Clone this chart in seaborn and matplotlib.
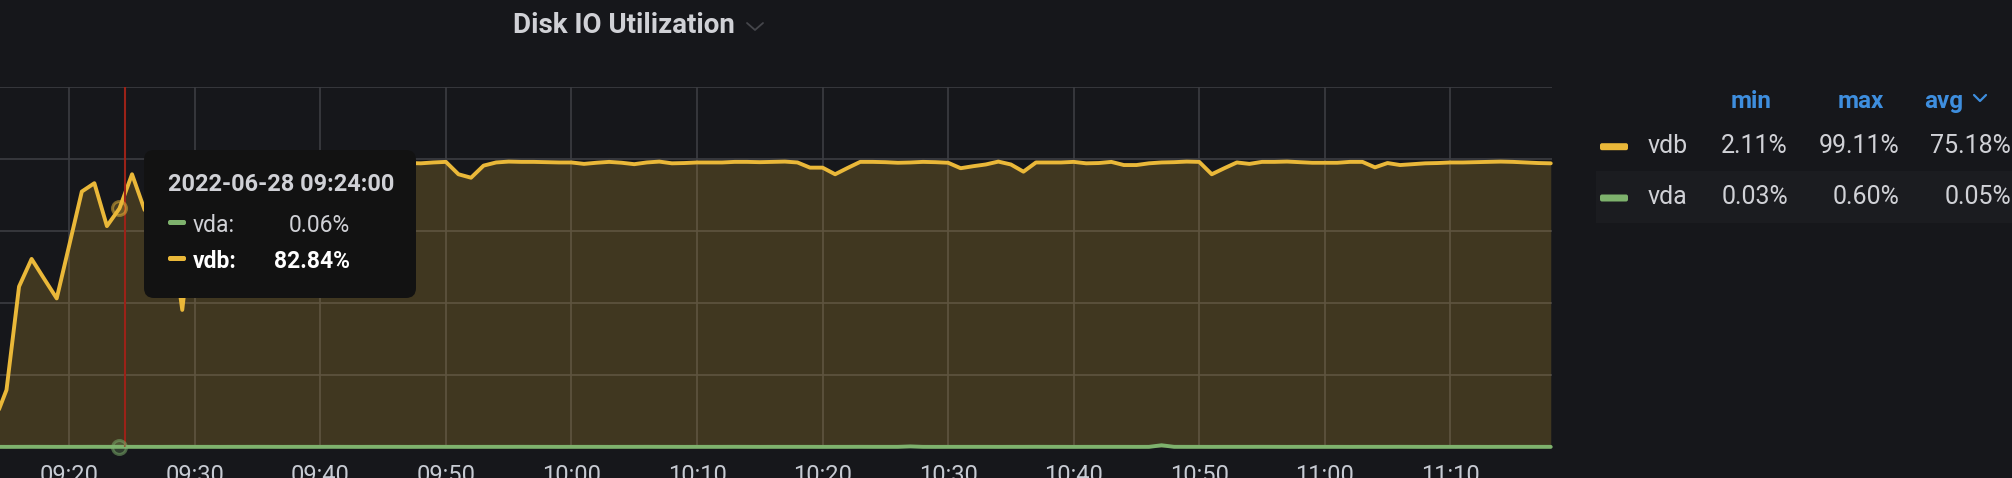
import pandas as pd
import numpy as np
import seaborn as sns
import matplotlib.pyplot as plt
import matplotlib.dates as mdates
from matplotlib.patches import FancyBboxPatch, Rectangle
from matplotlib.lines import Line2D

# one sample per minute, starting 09:14
start = "2022-06-28 09:14"
vdb = [8.5, 19.8, 55.7, 65.3, 58.4, 51.6, 70.1, 88.7, 91.6, 76.7,
       82.84, 94.7, 82.3, 88.0, 79.5, 47.6, 86.2, 93.4, 96.1, 97.8,
       98.2, 97.5, 98.6, 98.9, 98.4, 98.8, 98.9, 98.6, 98.3, 98.8,
       99.0, 98.7, 98.5, 98.6, 98.5, 98.8, 99.0, 94.7, 93.5, 97.7,
       98.8, 99.1, 99.0, 99.0, 98.9, 98.8,
       98.8, 98.3, 98.7, 99.0, 98.7, 98.2, 98.8, 99.1, 98.5, 98.6,
       98.8, 98.8, 98.8, 99.0, 99.0, 98.9, 99.0, 99.1, 98.8, 97.0,
       97.0, 94.7, 96.9, 99.0, 99.0, 98.9, 98.7, 98.8, 99.0, 98.9,
       98.7, 96.8, 97.5, 98.1, 99.1, 98.1, 95.6, 98.8, 98.8, 98.8,
       99.0, 98.5, 98.6, 99.0, 97.9, 97.9, 98.5, 98.8, 98.9, 99.1,
       99.0, 94.7, 96.8, 98.8, 98.3, 99.0, 99.0, 99.11, 98.9, 98.7,
       98.7, 98.7, 99.0, 99.0, 97.1, 98.6, 97.9, 98.2, 98.5, 98.6,
       98.8, 98.8, 98.9, 99.0, 99.1, 99.0, 98.8, 98.6, 98.5]
vda = [0.05, 0.04, 0.05, 0.06, 0.05, 0.04, 0.05, 0.05, 0.06, 0.05,
       0.06, 0.05, 0.05, 0.04, 0.05, 0.06, 0.05, 0.05, 0.04, 0.05,
       0.05, 0.06, 0.05, 0.04, 0.05, 0.05, 0.05, 0.06, 0.05, 0.04,
       0.05, 0.05, 0.05, 0.04, 0.05, 0.06, 0.05, 0.05, 0.04, 0.05,
       0.05, 0.05, 0.06, 0.05, 0.05, 0.04,
       0.05, 0.05, 0.05, 0.04, 0.05, 0.05, 0.06, 0.05, 0.05, 0.04,
       0.05, 0.05, 0.05, 0.06, 0.05, 0.04, 0.05, 0.05, 0.05, 0.05,
       0.04, 0.05, 0.05, 0.06, 0.05, 0.05, 0.05, 0.20, 0.05, 0.04,
       0.05, 0.05, 0.05, 0.05, 0.04, 0.05, 0.05, 0.06, 0.05, 0.05,
       0.04, 0.05, 0.05, 0.05, 0.05, 0.04, 0.05, 0.60, 0.06, 0.05,
       0.05, 0.04, 0.05, 0.05, 0.05, 0.06, 0.05, 0.04, 0.05, 0.05,
       0.05, 0.05, 0.04, 0.05, 0.05, 0.05, 0.06, 0.05, 0.04, 0.05,
       0.05, 0.05, 0.05, 0.04, 0.05, 0.05, 0.05, 0.05, 0.05]

series = ["vdb", "vda"]
colors = ["#EAB839", "#7EB26D"]
stat_names = ["min", "max", "avg"]
stat_vals = {"vdb": ["2.11%", "99.11%", "75.18%"],
             "vda": ["0.03%", "0.60%", "0.05%"]}
hover_time = "2022-06-28 09:24:00"
tip_order = ["vda", "vdb"]
tip_vals = {"vda": "0.06%", "vdb": "82.84%"}
title = "Disk IO Utilization"

times = pd.date_range(start, periods=len(vdb), freq="min")
df = pd.DataFrame({"time": list(times) * 2,
                   "value": vdb + vda,
                   "disk": ["vdb"] * len(vdb) + ["vda"] * len(vda)})

W, H = 2012, 478
bg = "#16171b"
txt = "#d0d1d6"
blue = "#3e8ede"
pal = dict(zip(series, colors))

sns.set_theme(style="dark")
plt.rcParams['font.family'] = ['Roboto', 'DejaVu Sans']

fig = plt.figure(figsize=(W / 100, H / 100), dpi=100, facecolor=bg)
ax = fig.add_axes([0, 31 / H, 1552 / W, 360 / H])
ax.set_facecolor(bg)

sns.lineplot(data=df, x="time", y="value", hue="disk", hue_order=series,
             palette=pal, lw=2.8, legend=False, ax=ax, zorder=3)
for ln in ax.lines:
    ln.set_clip_on(False)
for s in series:
    sub = df[df["disk"] == s]
    ax.fill_between(sub["time"], sub["value"], color=pal[s], alpha=0.2, lw=0, zorder=2)

ax.set_ylim(0, 125)
ax.set_xlim(pd.Timestamp("2022-06-28 09:14:29"), pd.Timestamp("2022-06-28 11:18:06"))
ax.set_yticks([0, 25, 50, 75, 100, 125])
ax.xaxis.set_major_locator(mdates.MinuteLocator(byminute=range(0, 60, 10)))
ax.xaxis.set_major_formatter(mdates.DateFormatter("%H:%M"))
ax.tick_params(axis="x", length=0, labelsize=17, pad=12, labelcolor="#c7cbd3")
ax.tick_params(axis="y", length=0, labelleft=False)
ax.grid(True, color="#3c3d42", lw=1.2, zorder=0)
ax.set_axisbelow(True)
ax.set_xlabel("")
ax.set_ylabel("")
for sp in ax.spines.values():
    sp.set_visible(False)

# hover cursor + points
ht = pd.Timestamp(hover_time)
ax.axvline(ht + pd.Timedelta(seconds=27), color="#9b2218", lw=1.5, zorder=4)
for s in series:
    v = df[(df["disk"] == s) & (df["time"] == ht)]["value"].iloc[0]
    ax.plot([ht], [v], "o", ms=10, mfc=pal[s] + "40", mec=pal[s] + "80", mew=2.2,
            zorder=5, clip_on=False)


def fx(x):
    return x / W


def fy(y):
    return 1 - y / H


# title
fig.text(fx(513), fy(33.3), title, fontsize=20, fontweight=600, color=txt, va="baseline")
fig.add_artist(Line2D([747, 755, 763], [H - 23, H - 30, H - 23], transform=None,
                      color="#45464b", lw=1.3))

# tooltip
fig.add_artist(FancyBboxPatch((144, H - 298), 272, 148, transform=None,
                              boxstyle="round,pad=0,rounding_size=10",
                              fc="#121212", ec="none", zorder=10))
fig.text(fx(168), fy(191), hover_time, fontsize=16.9, fontweight=600,
         color=txt, va="baseline", zorder=11)
for s, base in zip(tip_order, [232, 268]):
    strong = s == "vdb"
    fig.add_artist(FancyBboxPatch((168, H - base + 7), 18, 5, transform=None,
                                  boxstyle="round,pad=0,rounding_size=2",
                                  fc=pal[s], ec="none", zorder=11))
    fig.text(fx(193), fy(base), s + ":", fontsize=16.5, color="white" if strong else txt,
             fontweight="bold" if strong else "normal", va="baseline", zorder=11)
    fig.text(fx(350), fy(base), tip_vals[s], fontsize=16.5, ha="right",
             color="white" if strong else txt,
             fontweight="bold" if strong else "normal", va="baseline", zorder=11)

# legend table
col_right = [1788, 1899, 2011]
head_right = [1772, 1884, 1963]
for name, r in zip(stat_names, head_right):
    fig.text(fx(r), fy(108), name, fontsize=17.5, fontweight="bold", color=blue,
             ha="right", va="baseline")
fig.add_artist(Line2D([1974, 1980, 1986], [H - 95, H - 101, H - 95], transform=None,
                      color=blue, lw=1.6))
fig.add_artist(Rectangle((1596, H - 223), 416, 52, transform=None,
                         fc="#1b1c20", ec="none", zorder=0))
for s, base in zip(series, [152.7, 204]):
    fig.add_artist(FancyBboxPatch((1600, H - base + 2.5), 28, 7, transform=None,
                                  boxstyle="round,pad=0,rounding_size=2",
                                  fc=pal[s], ec="none"))
    fig.text(fx(1648), fy(base), s, fontsize=18, color=txt, va="baseline")
    for val, r in zip(stat_vals[s], col_right):
        fig.text(fx(r), fy(base), val, fontsize=18, color=txt, ha="right", va="baseline")

fig.savefig("out.png", dpi=100, facecolor=bg)
plt.close()
